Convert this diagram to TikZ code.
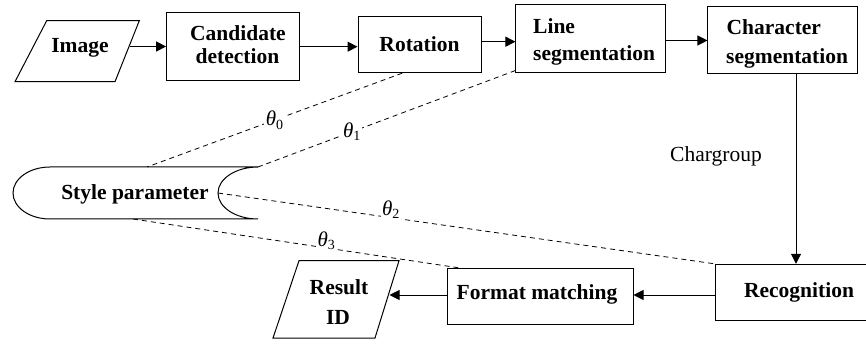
\documentclass[tikz,border=0pt]{standalone}
\usepackage{fontspec}
\setmainfont{Liberation Serif}
\usetikzlibrary{arrows.meta,calc}
\begin{document}
\begin{tikzpicture}[x=1pt,y=-1pt,
  box/.style={draw,line width=1pt,rectangle,inner sep=0pt},
  shp/.style={draw,line width=1pt,line join=miter},
  txt/.style={inner sep=0pt,font=\fontsize{21.5}{23}\selectfont\bfseries},
  arr/.style={line width=1pt,-{Triangle[length=10pt,width=10pt]}},
  dsh/.style={line width=0.8pt,dash pattern=on 5pt off 4pt},
  th/.style={fill=white,inner sep=1.5pt,font=\fontsize{21}{21}\selectfont},
  plain/.style={inner sep=0pt,font=\fontsize{21.5}{23}\selectfont}
]
\useasboundingbox (0,0) rectangle (866,344);
\clip (0,0) rectangle (866,344);
\newcommand{\thsub}[1]{{\itshape θ}\raisebox{-0.35ex}{\fontsize{14}{14}\selectfont #1}}

% Image (parallelogram)
\draw[shp] (46.7,20.7) -- (139.3,20.7) -- (115,81.7) -- (15,81.7) -- cycle;
\node[txt,anchor=base] (img) at (80,53) {Image};
\coordinate (imgR) at (129.6,46.5);

% boxes
\node[box,minimum width=133.3pt,minimum height=67.7pt] (cand) at (233.3,46.2) {};
\node[txt,anchor=base] (candA) at (238,40.7) {Candidate};
\node[txt,anchor=base] (candB) at (237.5,63.3) {detection};

\node[box,minimum width=123pt,minimum height=56pt] (rot) at (419.5,44.7) {};
\node[txt,anchor=base] (rott) at (419.5,52) {Rotation};

\node[box,minimum width=149.7pt,minimum height=68pt] (lseg) at (590.8,39) {};
\node[txt,anchor=base west] (lsegA) at (533,34) {Line};
\node[txt,anchor=base west] (lsegB) at (533,61) {segmentation};

\node[box,minimum width=149.7pt,minimum height=67pt] (cseg) at (782.8,40.5) {};
\node[txt,anchor=base west] (csegA) at (726.5,35) {Character};
\node[txt,anchor=base west] (csegB) at (726,64) {segmentation};

\node[box,minimum width=168pt,minimum height=56.4pt] (rec) at (799,292.5) {};
\node[txt,anchor=base] (rect) at (799,297) {Recognition};

\node[box,minimum width=186pt,minimum height=55pt] (fmt) at (540,296.5) {};
\node[txt,anchor=base] (fmtt) at (537,299) {Format matching};

% Result ID (parallelogram)
\draw[shp] (299,260.7) -- (399,260.7) -- (375,338) -- (273,338) -- cycle;
\node[txt,anchor=base] (resA) at (339,294.3) {Result};
\node[txt,anchor=base] (resB) at (338,324) {ID};
\coordinate (resR) at (389.5,295);

\node[plain,anchor=base] (cg) at (716,161.7) {Chargroup};

% style parameter (stored data symbol)
\node[txt,anchor=base] (sp) at (135,200) {Style parameter};
\coordinate (spTop) at (147,167);
\coordinate (spTR) at (258,167);
\coordinate (spIn) at (218,193);
\coordinate (spBot) at (133,219);
\draw[line width=1pt] (50,167) -- (258,167)
  .. controls (235.9,167) and (218,178.64) .. (218,193)
  .. controls (218,207.36) and (235.9,219) .. (258,219)
  -- (50,219)
  .. controls (29.57,219) and (13,207.36) .. (13,193)
  .. controls (13,178.64) and (29.57,167) .. cycle;

% arrows
\draw[arr] (imgR) -- (imgR -| cand.west);
\draw[arr] ([yshift=-0.5pt]cand.east) -- ([yshift=-0.5pt]cand.east -| rot.west);
\draw[arr] ([yshift=3pt]rot.east) -- ([yshift=3pt]rot.east -| lseg.west);
\draw[arr] (cseg.west -| lseg.east) -- (cseg.west);
\draw[arr] ([xshift=13.2pt]cseg.south) -- ([xshift=13.2pt]cseg.south |- rec.north);
\draw[arr] ([yshift=-2.5pt]rec.west) -- ([yshift=-2.5pt]rec.west -| fmt.east);
\draw[arr] (resR -| fmt.west) -- (resR);

% dashed parameter links
\coordinate (rotB) at ($(rot.south west)!0.36!(rot.south east)$);
\coordinate (lsegB) at ([yshift=3pt]lseg.south west);
\coordinate (fmtT) at ($(fmt.north west)!0.09!(fmt.north east)$);
\draw[dsh] (rotB) -- node[th,pos=0.5] {\thsub{0}} (spTop);
\draw[dsh] (lsegB) -- node[th,pos=0.636] {\thsub{1}} (spTR);
\draw[dsh] (spIn) -- node[th,pos=0.348,yshift=8pt] {\thsub{2}} (rec.north west);
\draw[dsh] (spBot) -- node[th,pos=0.585,yshift=7pt] {\thsub{3}} (fmtT);
\end{tikzpicture}
\end{document}
